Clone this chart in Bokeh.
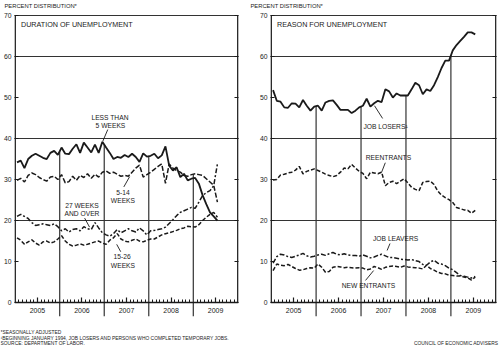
import numpy as np
from bokeh.plotting import figure
from bokeh.models import (Range1d, FixedTicker, LinearAxis, Label, CustomJSTickFormatter, Grid,
                          Title)
from bokeh.layouts import row, column
from bokeh.embed import file_html
from bokeh.resources import INLINE

# ---------------- data ----------------
years = [2005, 2006, 2007, 2008, 2009]
n_months = 55  # Jan 2005 - Jul 2009

less_than_5 = [34.2, 34.6, 32.8, 35.0, 35.8, 36.3, 35.8, 35.3, 35.0, 36.5, 37.0, 36.0,
               37.8, 36.3, 36.2, 37.5, 38.6, 36.5, 39.0, 37.8, 36.6, 38.5, 36.5, 39.2,
               37.8, 36.5, 35.0, 35.5, 35.3, 36.0, 35.5, 36.3, 35.5, 34.3, 36.4, 35.6,
               35.8, 36.3, 35.2, 35.9, 38.1, 33.4, 32.2, 33.0, 30.6, 31.4, 29.8, 30.2,
               30.4, 29.0, 26.2, 24.0, 22.0, 21.0, 20.0]
weeks_5_14 = [29.8, 30.3, 29.4, 31.0, 31.6, 31.2, 30.5, 30.0, 29.6, 30.6, 30.8, 30.0,
              31.2, 29.2, 29.5, 30.8, 29.8, 31.0, 30.5, 31.4, 30.3, 31.3, 30.6, 31.8,
              32.1, 31.5, 31.8, 31.3, 30.8, 31.0, 30.8, 31.8, 32.8, 33.5, 30.6, 31.2,
              31.8, 32.5, 33.2, 33.8, 29.1, 33.8, 32.8, 32.2, 31.8, 31.0, 30.8, 31.2,
              31.4, 31.2, 31.0, 30.2, 29.4, 28.6, 24.5]
weeks_15_26 = [15.8, 15.2, 14.2, 14.8, 15.3, 14.5, 14.0, 14.8, 15.0, 14.5, 14.8, 15.5,
               16.3, 15.0, 14.2, 13.8, 14.0, 14.3, 14.0, 14.2, 14.5, 14.8, 15.0, 14.5,
               14.2, 15.2, 15.8, 16.8, 15.5, 15.0, 14.8, 15.2, 15.5, 15.0, 14.8, 15.2,
               15.5, 15.5, 16.0, 16.5, 16.8, 17.0, 17.3, 17.6, 18.0, 18.2, 18.6, 18.5,
               18.4, 19.0, 20.0, 20.8, 21.5, 22.0, 20.8]
weeks_27_over = [21.0, 21.5, 21.0, 20.5, 19.5, 18.8, 19.0, 19.2, 19.0, 18.8, 19.2, 18.5,
                 17.5, 18.0, 17.2, 17.8, 18.0, 17.5, 18.5, 18.0, 17.8, 19.5, 18.2, 17.0,
                 16.5, 16.2, 16.8, 17.8, 17.0, 17.5, 18.0, 17.5, 17.2, 18.2, 17.5, 16.5,
                 17.5, 17.6, 17.8, 18.0, 18.4, 19.3, 20.2, 21.2, 22.0, 22.4, 22.8, 23.2,
                 23.0, 24.5, 26.1, 26.8, 27.3, 28.5, 33.8]

job_losers = [51.8, 49.2, 49.0, 47.6, 47.5, 48.6, 48.5, 47.6, 49.4, 48.0, 46.8, 47.8,
              48.0, 46.8, 48.8, 49.2, 49.3, 48.2, 47.0, 47.0, 47.0, 46.2, 46.8, 47.6,
              48.0, 49.7, 47.8, 48.6, 49.2, 48.9, 52.0, 51.5, 50.0, 51.0, 50.5, 50.5,
              50.5, 52.0, 53.6, 53.0, 50.8, 52.0, 51.6, 53.0, 55.0, 57.2, 59.0, 59.0,
              61.5, 62.8, 63.8, 64.8, 65.9, 65.9, 65.4]
reentrants = [29.9, 30.0, 31.1, 31.3, 31.6, 31.8, 32.3, 33.2, 31.4, 32.0, 32.3, 32.6,
              32.2, 31.8, 31.3, 31.0, 30.7, 31.0, 31.8, 32.8, 32.6, 33.7, 32.8, 32.0,
              31.5, 30.2, 31.8, 31.6, 31.4, 31.8, 28.5, 29.3, 29.6, 29.0, 29.6, 30.2,
              29.2, 28.1, 27.6, 27.3, 29.3, 29.5, 29.6, 28.8, 27.2, 26.2, 25.6, 25.1,
              24.4, 23.2, 22.9, 22.6, 22.5, 21.8, 22.5]
job_leavers = [9.6, 11.2, 11.8, 11.6, 11.2, 11.0, 11.3, 11.6, 12.0, 11.4, 11.1, 11.3,
               11.6, 11.8, 11.5, 11.9, 12.2, 11.8, 11.6, 11.9, 11.6, 11.5, 11.5, 11.3,
               11.6, 11.3, 10.9, 11.1, 11.5, 11.8, 11.4, 11.0, 11.0, 10.8, 10.6, 10.5,
               10.4, 10.5, 10.2, 10.0, 9.3, 9.1, 9.9, 10.3, 9.6, 9.4, 9.0, 8.4,
               8.0, 7.3, 6.6, 6.4, 6.2, 6.0, 6.4]
new_entrants = [7.8, 9.4, 9.1, 9.0, 9.3, 8.8, 8.3, 7.9, 8.0, 8.3, 8.5, 8.4,
                9.4, 8.6, 7.4, 7.6, 8.6, 8.8, 8.7, 8.5, 8.6, 8.5, 8.4, 8.5,
                8.4, 8.0, 8.2, 8.8, 8.5, 8.1, 8.6, 8.8, 8.9, 8.8, 8.6, 8.9,
                8.7, 8.6, 8.5, 8.4, 8.2, 9.1, 8.3, 7.9, 7.4, 7.1, 7.0, 6.7,
                6.6, 6.5, 6.5, 6.2, 6.0, 5.5, 6.2]

y_ticks = [0, 10, 20, 30, 40, 50, 60, 70]
grid_values = [20, 40, 60, 70]

# ---------------- styling ----------------
FONT = "Liberation Sans"
INK = "#1a1a1a"
GRID = "#333333"
t = years[0] + (np.arange(n_months) + 0.5) / 12.0
X0, X1 = years[0], years[-1] + 1
YMAX = y_ticks[-1]
BOT_H, W = 18, 500
MAIN_H = 347 - BOT_H


def strip(height):
    s = figure(width=W, height=height, output_backend="svg", toolbar_location=None,
               title=None, x_range=Range1d(0, W), y_range=Range1d(height, 0),
               x_axis_type=None, y_axis_type=None, min_border=0,
               min_border_left=0, min_border_right=0, min_border_top=0, min_border_bottom=0,
               background_fill_color="white", border_fill_color="white")
    s.outline_line_color = None
    return s


def make_panel(width, bl, br, title, series, labels, pointers):
    head = Title(text="PERCENT DISTRIBUTION*", align="left", offset=-bl, standoff=5.5,
                 vertical_align="top", text_font=FONT, text_font_size="5.8px",
                 text_font_style="normal", text_color=INK)
    p = figure(width=width, height=MAIN_H, output_backend="svg", toolbar_location=None,
               title=head,
               x_range=Range1d(X0 - 0.015, X1 + 0.015), y_range=Range1d(-3.4, YMAX + 0.25),
               min_border_left=bl, min_border_right=br, min_border_top=0, min_border_bottom=13,
               x_axis_type=None, y_axis_type=None, background_fill_color="white",
               border_fill_color="white")
    p.outline_line_color = None

    p.add_layout(Grid(dimension=1, ticker=FixedTicker(ticks=grid_values),
                      grid_line_color=GRID, grid_line_width=1.2))

    yax = LinearAxis(ticker=FixedTicker(ticks=y_ticks), axis_line_color=None,
                     major_tick_in=4, major_tick_out=0, major_tick_line_color=INK,
                     major_tick_line_width=1.2, minor_tick_line_color=None,
                     major_label_standoff=3, major_label_text_font=FONT,
                     major_label_text_font_size="6.8px", major_label_text_color=INK)
    p.add_layout(yax, "left")
    yax_r = LinearAxis(ticker=FixedTicker(ticks=y_ticks), axis_line_color=None,
                       major_tick_in=4, major_tick_out=0, major_tick_line_color=INK,
                       major_tick_line_width=1.2, minor_tick_line_color=None,
                       formatter=CustomJSTickFormatter(code="return ''"),
                       major_label_text_font_size="6px")
    p.add_layout(yax_r, "right")

    minor = [X0 + k / 12.0 for k in range(1, 12 * len(years)) if k % 12 != 0]
    xax = LinearAxis(fixed_location=0,
                     ticker=FixedTicker(ticks=[y + 0.5 for y in years], minor_ticks=minor),
                     formatter=CustomJSTickFormatter(code="return String(Math.floor(tick))"),
                     axis_line_color=INK, axis_line_width=1.6,
                     major_tick_in=5, major_tick_out=0, major_tick_line_color=INK,
                     major_tick_line_width=1.2,
                     minor_tick_in=3, minor_tick_out=0, minor_tick_line_color=INK,
                     minor_tick_line_width=1.0,
                     major_label_standoff=5, major_label_text_font=FONT,
                     major_label_text_font_size="7px", major_label_text_color=INK)
    p.add_layout(xax, "below")

    # frame sides
    p.segment(x0=[X0, X1], y0=[0, 0], x1=[X0, X1], y1=[YMAX, YMAX],
              line_color=INK, line_width=1.5)

    # year dividers: from below the axis up to the top series
    bounds = years[1:]
    tops = [max(float(np.interp(b, t, s[0])) for s in series) for b in bounds]
    p.segment(x0=bounds, y0=[p.y_range.start] * len(bounds), x1=bounds, y1=tops,
              line_color=GRID, line_width=1.2)

    for vals, dash, lw in series:
        p.line(t, vals, line_color=INK, line_width=lw, line_dash=dash)

    p.add_layout(Label(x=X0 + 0.13, y=67.8, text=title, text_font=FONT,
                       text_font_size="7.2px", text_color=INK, text_baseline="middle",
                       text_align="left"))
    for (lx, ly, txt) in labels:
        p.add_layout(Label(x=lx, y=ly, text=txt, text_font=FONT, text_font_size="6.7px",
                           text_color=INK, text_align="center", text_baseline="middle"))
    for (ax0, ay0, ax1, ay1) in pointers:
        p.segment(x0=[ax0], y0=[ay0], x1=[ax1], y1=[ay1], line_color=INK, line_width=0.9)
    return p


left_series = [(less_than_5, "solid", 1.8), (weeks_5_14, "5 2", 1.5),
               (weeks_15_26, "4 2", 1.5), (weeks_27_over, "5 2 2 2", 1.5)]
left_labels = [(2007.13, 45.1, "LESS THAN"), (2007.14, 43.2, "5 WEEKS"),
               (2007.42, 26.9, "5-14"), (2007.42, 24.9, "WEEKS"),
               (2006.50, 23.7, "27 WEEKS"), (2006.50, 21.7, "AND OVER"),
               (2007.40, 11.2, "15-26"), (2007.42, 9.0, "WEEKS")]
left_pointers = [(2007.08, 42.2, 2006.97, 39.4), (2007.57, 30.7, 2007.44, 28.2),
                 (2006.56, 20.6, 2006.67, 18.4), (2007.28, 14.2, 2007.37, 12.4)]

right_series = [(job_losers, "solid", 1.8), (reentrants, "4 2", 1.5),
                (job_leavers, "5 2 2 2", 1.5), (new_entrants, "4 2", 1.5)]
right_labels = [(2007.545, 42.9, "JOB LOSERS\u00b9"), (2007.61, 35.4, "REENTRANTS"),
                (2007.77, 15.6, "JOB LEAVERS"), (2007.165, 4.15, "NEW ENTRANTS")]
right_pointers = [(2007.30, 48.0, 2007.48, 44.9), (2007.54, 34.1, 2007.455, 31.7),
                  (2007.645, 14.4, 2007.58, 12.7), (2007.10, 5.4, 2007.28, 7.8)]

pl = make_panel(250, 10, 12, "DURATION OF UNEMPLOYMENT", left_series, left_labels, left_pointers)
pr = make_panel(250, 20, 4, "REASON FOR UNEMPLOYMENT", right_series, right_labels, right_pointers)

# footnote strip
bot = strip(BOT_H)
notes = [(0, 2.8, "*SEASONALLY ADJUSTED", "left"),
         (0, 8.7, "\u00b9BEGINNING JANUARY 1994, JOB LOSERS AND PERSONS WHO COMPLETED TEMPORARY JOBS.", "left"),
         (0, 14.3, "SOURCE: DEPARTMENT OF LABOR.", "left"),
         (498, 14.0, "COUNCIL OF ECONOMIC ADVISERS", "right")]
for (nx, ny, txt, align) in notes:
    bot.add_layout(Label(x=nx, y=ny, text=txt, text_font=FONT, text_font_size="4.9px",
                         text_color=INK, text_baseline="middle", text_align=align))

layout = column(row(pl, pr), bot)
open("out.html", "w").write(file_html(layout, INLINE))
